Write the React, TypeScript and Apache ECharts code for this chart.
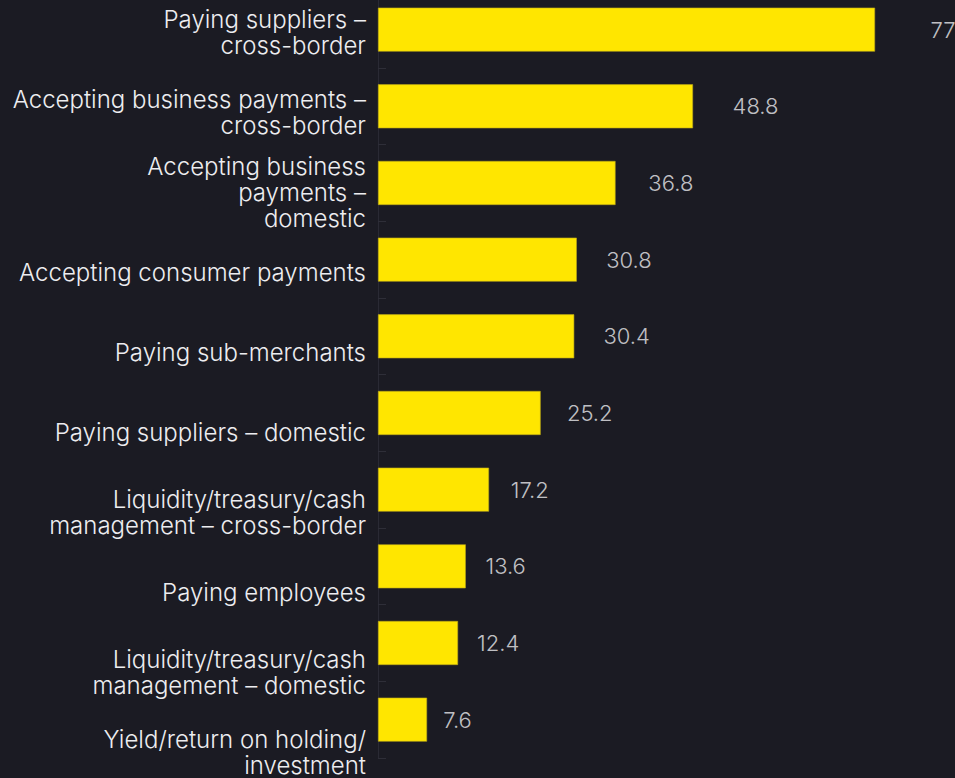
import React, { useEffect, useRef } from "react";
import * as echarts from "echarts";

const categories = [
  "Paying suppliers –\ncross-border",
  "Accepting business payments –\ncross-border",
  "Accepting business\npayments –\ndomestic",
  "Accepting consumer payments",
  "Paying sub-merchants",
  "Paying suppliers – domestic",
  "Liquidity/treasury/cash\nmanagement – cross-border",
  "Paying employees",
  "Liquidity/treasury/cash\nmanagement – domestic",
  "Yield/return on holding/\ninvestment",
];
const values = [77, 48.8, 36.8, 30.8, 30.4, 25.2, 17.2, 13.6, 12.4, 7.6];

const BG = "#1b1b23";
const YELLOW = "#FFE600";
const TEXT = "#ededf0";
const FONT = "Inter, 'Noto Sans', sans-serif";
const OFF = 30; // container extends above and below the page

export default function App() {
  const ref = useRef<HTMLDivElement>(null);
  useEffect(() => {
    if (!ref.current) return;
    const chart = echarts.init(ref.current, undefined, { renderer: "svg" });
    chart.setOption({
      animation: false,
      backgroundColor: BG,
      grid: [
        { left: 378, right: 60.6, top: OFF - 8.7, bottom: OFF + 20, containLabel: false },
        { left: 378, right: 60.6, top: OFF - 7, bottom: OFF - 14, containLabel: false },
        { left: 390, right: 3.4, top: OFF - 8.7, bottom: OFF + 20, containLabel: false },
      ],
      xAxis: [
        { type: "value", gridIndex: 0, min: 0, max: 80, show: false },
        { type: "value", gridIndex: 1, min: 0, max: 80, show: false },
        { type: "value", gridIndex: 2, min: 0, max: 80, show: false },
      ],
      yAxis: [
        {
          type: "category",
          gridIndex: 0,
          inverse: true,
          data: categories,
          axisLine: { show: true, lineStyle: { color: "#2a2a34", width: 1 } },
          axisTick: { show: true, inside: true, length: 8, lineStyle: { color: "#2e2e38" } },
          axisLabel: { show: false },
          splitLine: { show: false },
        },
        {
          type: "category",
          gridIndex: 1,
          inverse: true,
          data: categories,
          axisLine: { show: false },
          axisTick: { show: false },
          axisLabel: {
            show: true,
            margin: 12,
            color: TEXT,
            fontFamily: FONT,
            fontWeight: 300,
            fontSize: 24,
            lineHeight: 26,
            align: "right",
          },
          splitLine: { show: false },
        },
        {
          type: "category",
          gridIndex: 2,
          inverse: true,
          data: categories,
          show: false,
        },
      ],
      series: [
        {
          type: "bar",
          xAxisIndex: 0,
          yAxisIndex: 0,
          data: values,
          barWidth: 44,
          itemStyle: { color: YELLOW, borderColor: "#b8a61a", borderWidth: 0.6 },
          label: { show: false },
        },
        {
          type: "scatter",
          xAxisIndex: 2,
          yAxisIndex: 2,
          data: values.map((v, i) => [v, categories[i]]),
          symbolSize: 0,
          clip: false,
          silent: true,
          label: {
            show: true,
            position: "right",
            distance: 0,
            color: TEXT,
            fontFamily: FONT,
            fontWeight: 300,
            fontSize: 22,
            formatter: (p: any) => String(p.value[0]),
          },
        },
      ],
    });
    return () => chart.dispose();
  }, []);
  return (
    <div
      ref={ref}
      style={{ width: 955, height: 778 + 2 * OFF, position: "fixed", left: 0, top: -OFF }}
    />
  );
}
